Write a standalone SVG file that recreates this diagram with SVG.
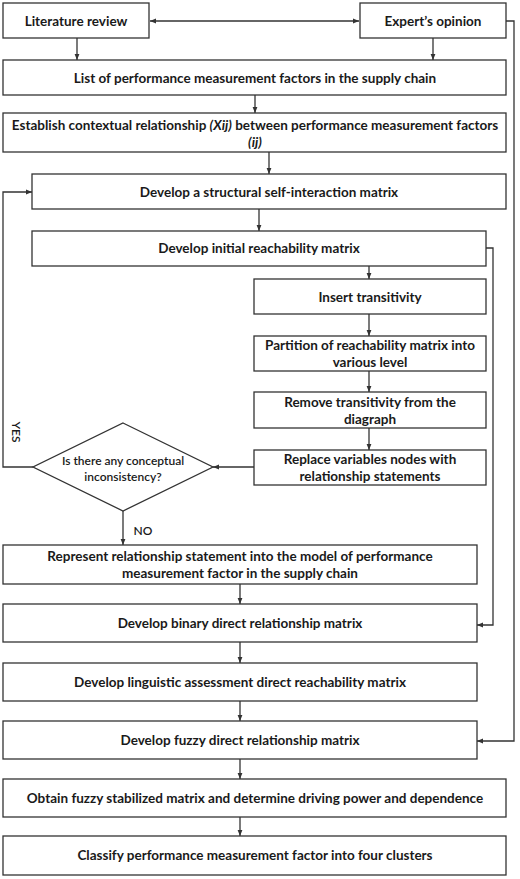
<svg xmlns="http://www.w3.org/2000/svg" width="520" height="879" viewBox="0 0 520 879">
<style>
.box{fill:#fff;stroke:#333;stroke-width:1.3}
.t{font-family:Lato,"Liberation Sans",Arial,sans-serif;font-size:13.5px;font-weight:700;fill:#1a1a1a;text-anchor:middle;dominant-baseline:central}
.s{font-size:12px;font-weight:600}
.c{fill:none;stroke:#333;stroke-width:1.3}
</style>
<defs>
<marker id="a" viewBox="0 0 10 10" refX="10" refY="5" markerWidth="6" markerHeight="6" markerUnits="userSpaceOnUse" orient="auto-start-reverse">
<path d="M0,1 L10,5 L0,9 z" fill="#333"/>
</marker>
</defs>
<rect width="520" height="879" fill="#fff"/>
<g id="connectors">
<line class="c" x1="150" y1="21" x2="359" y2="21" marker-start="url(#a)" marker-end="url(#a)"/>
<line class="c" x1="77" y1="38" x2="77" y2="60" marker-end="url(#a)"/>
<line class="c" x1="433" y1="38" x2="433" y2="60" marker-end="url(#a)"/>
<line class="c" x1="255" y1="95" x2="255" y2="113" marker-end="url(#a)"/>
<line class="c" x1="269" y1="152" x2="269" y2="174" marker-end="url(#a)"/>
<line class="c" x1="259" y1="209" x2="259" y2="231" marker-end="url(#a)"/>
<line class="c" x1="369" y1="266" x2="369" y2="279" marker-end="url(#a)"/>
<line class="c" x1="369" y1="314" x2="369" y2="336" marker-end="url(#a)"/>
<line class="c" x1="369" y1="371" x2="369" y2="392" marker-end="url(#a)"/>
<line class="c" x1="369" y1="428" x2="369" y2="450" marker-end="url(#a)"/>
<line class="c" x1="254" y1="467" x2="213" y2="467" marker-end="url(#a)"/>
<polyline class="c" points="33,467 3,467 3,192 32,192" marker-end="url(#a)"/>
<line class="c" x1="123" y1="511" x2="123" y2="545" marker-end="url(#a)"/>
<line class="c" x1="240" y1="584" x2="240" y2="604" marker-end="url(#a)"/>
<line class="c" x1="240" y1="642" x2="240" y2="663" marker-end="url(#a)"/>
<line class="c" x1="240" y1="701" x2="240" y2="721" marker-end="url(#a)"/>
<line class="c" x1="240" y1="759" x2="240" y2="779" marker-end="url(#a)"/>
<line class="c" x1="240" y1="817" x2="240" y2="836" marker-end="url(#a)"/>
<polyline class="c" points="486,248 493,248 493,625 477,625" marker-end="url(#a)"/>
<polyline class="c" points="506,21 514,21 514,741 477,741" marker-end="url(#a)"/>
<text class="t s" x="0" y="0" transform="translate(16,432) rotate(90)">YES</text>
<text class="t s" x="143" y="530">NO</text>
</g>
<g id="literature"><rect class="box" x="3" y="3" width="146" height="35"/><text class="t" x="76" y="21">Literature review</text></g>
<g id="expert"><rect class="box" x="360" y="3" width="146" height="35"/><text class="t" x="433" y="21">Expert’s opinion</text></g>
<g id="list"><rect class="box" x="3" y="60" width="503" height="35"/><text class="t" x="255" y="78">List of performance measurement factors in the supply chain</text></g>
<g id="establish"><rect class="box" x="3" y="113" width="503" height="39"/><text class="t" x="255" y="125">Establish contextual relationship <tspan font-style="italic">(Xij)</tspan> between performance measurement factors</text><text class="t" x="255" y="142" font-style="italic">(ij)</text></g>
<g id="ssim"><rect class="box" x="32" y="174" width="474" height="35"/><text class="t" x="269" y="192">Develop a structural self-interaction matrix</text></g>
<g id="irm"><rect class="box" x="32" y="231" width="454" height="35"/><text class="t" x="259" y="248">Develop initial reachability matrix</text></g>
<g id="insert"><rect class="box" x="254" y="279" width="232" height="35"/><text class="t" x="370" y="297">Insert transitivity</text></g>
<g id="partition"><rect class="box" x="254" y="336" width="232" height="35"/><text class="t" x="370" y="345">Partition of reachability matrix into</text><text class="t" x="370" y="362">various level</text></g>
<g id="remove"><rect class="box" x="254" y="392" width="232" height="36"/><text class="t" x="370" y="402">Remove transitivity from the</text><text class="t" x="370" y="419">diagraph</text></g>
<g id="replace"><rect class="box" x="254" y="450" width="232" height="35"/><text class="t" x="370" y="459">Replace variables nodes with</text><text class="t" x="370" y="476">relationship statements</text></g>
<g id="decision"><polygon class="box" points="123,423 213,467 123,511 33,467"/><text class="t s" x="123" y="460">Is there any conceptual</text><text class="t s" x="123" y="476">inconsistency?</text></g>
<g id="represent"><rect class="box" x="3" y="545" width="474" height="39"/><text class="t" x="240" y="556">Represent relationship statement into the model of performance</text><text class="t" x="240" y="573">measurement factor in the supply chain</text></g>
<g id="binary"><rect class="box" x="3" y="604" width="474" height="38"/><text class="t" x="240" y="623">Develop binary direct relationship matrix</text></g>
<g id="linguistic"><rect class="box" x="3" y="663" width="474" height="38"/><text class="t" x="240" y="682">Develop linguistic assessment direct reachability matrix</text></g>
<g id="fuzzy"><rect class="box" x="3" y="721" width="474" height="38"/><text class="t" x="240" y="740">Develop fuzzy direct relationship matrix</text></g>
<g id="obtain"><rect class="box" x="3" y="779" width="503" height="38"/><text class="t" x="255" y="798">Obtain fuzzy stabilized matrix and determine driving power and dependence</text></g>
<g id="classify"><rect class="box" x="3" y="836" width="503" height="39"/><text class="t" x="255" y="855">Classify performance measurement factor into four clusters</text></g>
</svg>
